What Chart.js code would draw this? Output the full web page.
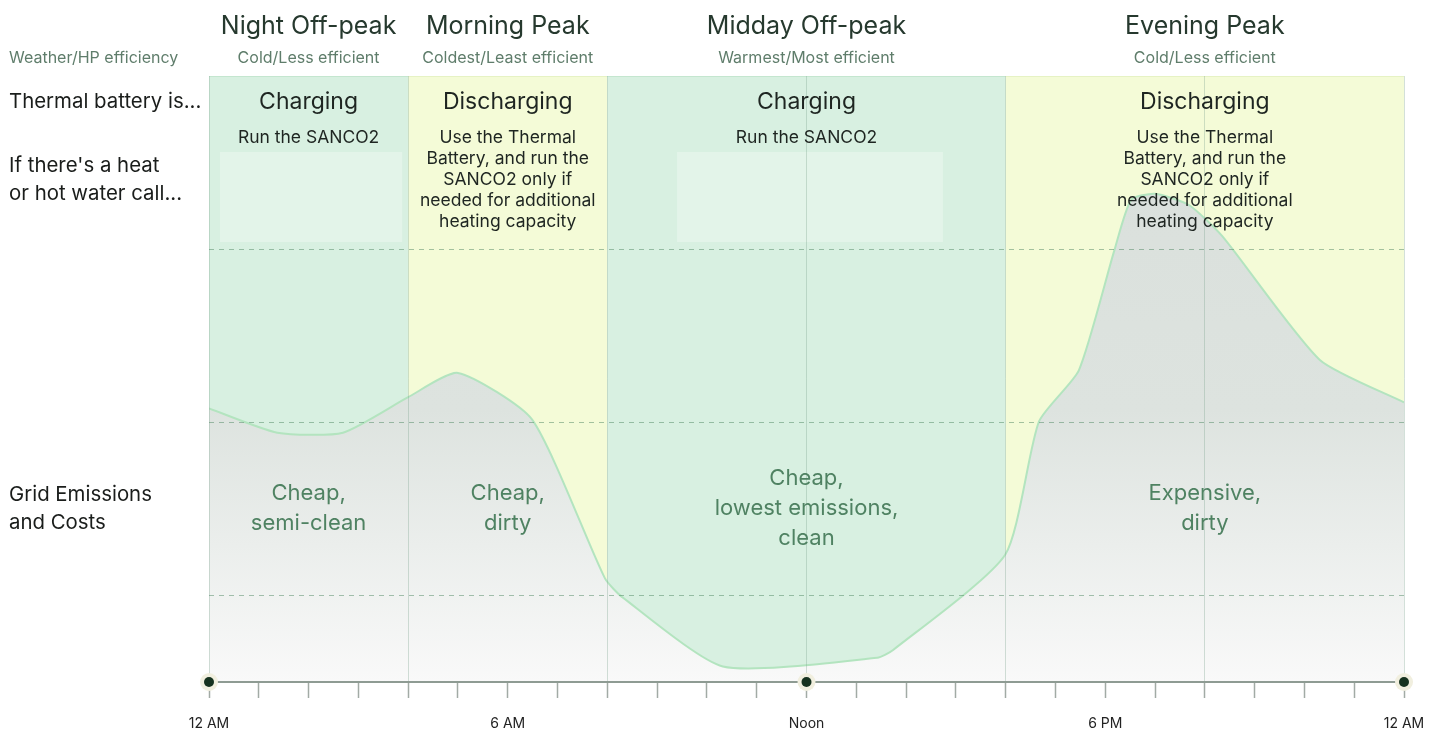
<!DOCTYPE html>
<html>
<head>
<meta charset="utf-8">
<script src="https://cdn.jsdelivr.net/npm/chart.js@4.4.1/dist/chart.umd.min.js"></script>
<style>
  html, body { margin: 0; padding: 0; background: #fff; }
  #wrap { width: 1438px; height: 730px; }
</style>
</head>
<body>
<div id="wrap"><canvas id="grid"></canvas></div>
<script>
// x axis: hours of the day
const tickHours = [0, 6, 12, 18, 24];
const tickLabels = ['12 AM', '6 AM', 'Noon', '6 PM', '12 AM'];
const markerHours = [0, 12, 24];

// the four tariff periods
const periodNames = ['Night Off-peak', 'Morning Peak', 'Midday Off-peak', 'Evening Peak'];
const periodStart = [0, 4, 8, 16];
const periodEnd = [4, 8, 16, 24];
const efficiency = ['Cold/Less efficient', 'Coldest/Least efficient', 'Warmest/Most efficient', 'Cold/Less efficient'];
const batteryState = ['Charging', 'Discharging', 'Charging', 'Discharging'];
const actions = [
  ['Run the SANCO2'],
  ['Use the Thermal', 'Battery, and run the', 'SANCO2 only if', 'needed for additional', 'heating capacity'],
  ['Run the SANCO2'],
  ['Use the Thermal', 'Battery, and run the', 'SANCO2 only if', 'needed for additional', 'heating capacity']
];
const gridLabels = [
  ['Cheap,', 'semi-clean'],
  ['Cheap,', 'dirty'],
  ['Cheap,', 'lowest emissions,', 'clean'],
  ['Expensive,', 'dirty']
];

// grid emissions curve (relative units)
const emissionHours  = [0, 1.37, 2.69, 4.0, 5.0, 6.49, 7.95, 8.3, 10.32, 13.42, 13.74, 15.99, 16.67, 17.47, 18.18, 18.52, 19.0, 19.68, 20.35, 22.31, 24];
const emissionValues = [3.16, 2.88, 2.88, 3.29, 3.57, 3.03, 1.2, 0.98, 0.18, 0.28, 0.37, 1.47, 3.01, 3.6, 4.98, 5.57, 5.64, 5.51, 5.15, 3.72, 3.23];
const guideValues = [1, 3, 5];

const rowLabels = ['Weather/HP efficiency', 'Thermal battery is...', ["If there's a heat", 'or hot water call...'], ['Grid Emissions', 'and Costs']];

const FONT = 'Inter, "Noto Sans", sans-serif';

const backdrop = {
  id: 'backdrop',
  beforeDatasetsDraw(chart) {
    const { ctx, chartArea: a, scales: { x } } = chart;
    ctx.save();
    periodStart.forEach((s, i) => {
      const x0 = x.getPixelForValue(s), x1 = x.getPixelForValue(periodEnd[i]);
      const charging = batteryState[i] === 'Charging';
      ctx.fillStyle = charging ? '#d8f0e1' : '#f4fbd7';
      ctx.fillRect(x0, a.top, x1 - x0, a.bottom - a.top);
      ctx.strokeStyle = charging ? '#c4e6cf' : '#e6f2c4';
      ctx.lineWidth = 1;
      ctx.beginPath();
      ctx.moveTo(x0, a.top + 0.5);
      ctx.lineTo(x1, a.top + 0.5);
      ctx.stroke();
      // pale empty box under the charging action
      if (charging) {
        const inset = i === 0 ? [0.22, 0.12] : [1.4, 1.26];
        const bx0 = x.getPixelForValue(s + inset[0]);
        const bx1 = x.getPixelForValue(periodEnd[i] - inset[1]);
        ctx.fillStyle = 'rgba(255,255,255,0.28)';
        ctx.fillRect(bx0, a.top + 76, bx1 - bx0, 90);
      }
    });
    ctx.restore();
  },
  afterDraw(chart) {
    const { ctx, chartArea: a, scales: { x, y } } = chart;
    ctx.save();
    ctx.textAlign = 'center';
    ctx.textBaseline = 'middle';
    periodStart.forEach((s, i) => {
      const cx = x.getPixelForValue((s + periodEnd[i]) / 2);
      ctx.fillStyle = '#26392e';
      ctx.font = '25px ' + FONT;
      ctx.fillText(periodNames[i], cx, a.top - 50);
      ctx.fillStyle = '#5f7d6b';
      ctx.font = '16px ' + FONT;
      ctx.fillText(efficiency[i], cx, a.top - 18);
      ctx.fillStyle = '#1e2521';
      ctx.font = '23px ' + FONT;
      ctx.fillText(batteryState[i], cx, a.top + 26);
      ctx.font = '17.5px ' + FONT;
      actions[i].forEach((t, k) => ctx.fillText(t, cx, a.top + 62 + k * 21));
      ctx.fillStyle = '#4f8262';
      ctx.font = '22px ' + FONT;
      const lines = gridLabels[i];
      const mid = y.getPixelForValue(2);
      lines.forEach((t, k) => ctx.fillText(t, cx, mid + (k - (lines.length - 1) / 2) * 30));
    });
    // row labels on the left
    ctx.textAlign = 'left';
    ctx.fillStyle = '#5f7d6b';
    ctx.font = '16px ' + FONT;
    ctx.fillText(rowLabels[0], 9, a.top - 18);
    ctx.fillStyle = '#1a1d1b';
    ctx.font = '20.4px ' + FONT;
    ctx.fillText(rowLabels[1], 9, a.top + 26);
    rowLabels[2].forEach((t, k) => ctx.fillText(t, 9, a.top + 90 + k * 28));
    rowLabels[3].forEach((t, k) => ctx.fillText(t, 9, y.getPixelForValue(2) - 14 + k * 28));
    // markers on the time axis
    markerHours.forEach(h => {
      const px = x.getPixelForValue(h), py = a.bottom;
      ctx.beginPath();
      ctx.arc(px, py, 9, 0, Math.PI * 2);
      ctx.fillStyle = '#f1efdf';
      ctx.fill();
      ctx.beginPath();
      ctx.arc(px, py, 5, 0, Math.PI * 2);
      ctx.fillStyle = '#16321f';
      ctx.fill();
    });
    ctx.restore();
  }
};

Chart.defaults.font.family = FONT;

new Chart(document.getElementById('grid'), {
  type: 'line',
  data: {
    datasets: [{
      label: 'Grid emissions',
      data: emissionHours.map((h, i) => ({ x: h, y: emissionValues[i] })),
      borderColor: '#b3e4bf',
      borderWidth: 2,
      pointRadius: 0,
      tension: 0.2,
      fill: 'start',
      backgroundColor: (c) => {
        const a = c.chart.chartArea;
        if (!a) return '#dde3df';
        const g = c.chart.ctx.createLinearGradient(0, a.top, 0, a.bottom);
        g.addColorStop(0, '#d9dfdb');
        g.addColorStop(0.55, '#dde3df');
        g.addColorStop(1, '#f9f9f9');
        return g;
      }
    }]
  },
  options: {
    responsive: true,
    maintainAspectRatio: false,
    animation: false,
    layout: { padding: { left: 209, right: 34, top: 76, bottom: 0 } },
    plugins: { legend: { display: false }, tooltip: { enabled: false } },
    scales: {
      x: {
        type: 'linear',
        min: 0,
        max: 24,
        afterFit: (s) => { s.height = 48; s.paddingLeft = 0; s.paddingRight = 0; },
        ticks: {
          stepSize: 1,
          autoSkip: false,
          maxRotation: 0,
          padding: 17,
          color: '#222',
          font: { size: 14 },
          callback: (v) => {
            const k = tickHours.indexOf(v);
            return k >= 0 ? tickLabels[k] : '';
          }
        },
        grid: {
          z: 1,
          color: (c) => (c.tick && c.tick.value % 4 === 0 ? 'rgba(130,165,145,0.35)' : 'rgba(0,0,0,0)'),
          tickColor: '#a2aba5',
          tickLength: 16,
          tickWidth: 1.5,
          lineWidth: 1
        },
        border: { z: 1, display: true, color: '#8e9b93', width: 2 }
      },
      y: {
        min: 0,
        max: 7,
        afterFit: (s) => { s.width = 0; },
        afterBuildTicks: (s) => { s.ticks = guideValues.map(v => ({ value: v })); },
        ticks: { display: false },
        grid: { z: 1, color: 'rgba(80,135,100,0.5)', drawTicks: false, lineWidth: 1 },
        border: { display: false, dash: [5, 5] }
      }
    }
  },
  plugins: [backdrop]
});
</script>
</body>
</html>
